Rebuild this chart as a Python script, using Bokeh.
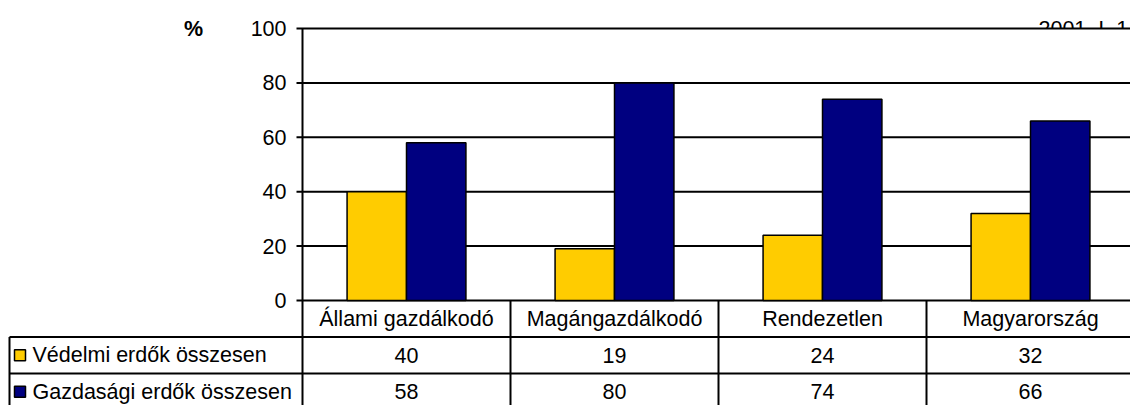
import numpy as np
from bokeh.plotting import figure
from bokeh.models import Range1d, ColumnDataSource
from bokeh.core.properties import value
from bokeh.embed import file_html
from bokeh.resources import INLINE

# ---- data ----
categories = ["Állami gazdálkodó", "Magángazdálkodó", "Rendezetlen", "Magyarország"]
series_names = ["Védelmi erdők összesen", "Gazdasági erdők összesen"]
vedelmi = [40, 19, 24, 32]
gazdasagi = [58, 80, 74, 66]
series_colors = ["#FFCC00", "#000080"]
y_ticks = [0, 20, 40, 60, 80, 100]
y_unit = "%"
corner_note = "2001. I. 1"

# ---- layout constants (pixels) ----
W, H = 1130, 405
PX = 208.0      # pixels per category
LEFT = 302      # canvas x of value axis
TOP = 28        # canvas y of top tick
PY = 2.72       # pixels per percent
ROW = 36.5      # table row height
FONT = value("Liberation Sans")
FS = "21.5px"

x_start = -LEFT / PX
x_end = (W - LEFT) / PX
ymax = max(y_ticks)
zero_px = TOP + ymax * PY
y_end = ymax + TOP / PY
y_start = -(H - zero_px) / PY

p = figure(width=W, height=H,
           x_range=Range1d(x_start, x_end), y_range=Range1d(y_start, y_end),
           x_axis_type=None, y_axis_type=None,
           toolbar_location=None, output_backend="svg",
           min_border=0, outline_line_color=None)
p.grid.visible = False
p.extra_y_ranges = {"tbl": Range1d(start=(H - zero_px) / ROW, end=-zero_px / ROW)}

n = len(categories)
centers = np.arange(n) + 0.5
bw = 1 / 3.5

# corner note (partially hidden by top border)
p.text(x=[(1038 - LEFT) / PX], y=[ymax], text=[corner_note],
       text_align="left", text_baseline="alphabetic",
       text_font=FONT, text_font_size=FS, text_color="black")

# plot area white background
p.quad(left=[0], right=[x_end + 1], bottom=[0], top=[ymax],
       fill_color="white", line_color=None)

# gridlines
gx0 = [-6 / PX] * len(y_ticks)
p.segment(x0=gx0, y0=y_ticks, x1=[x_end + 1] * len(y_ticks), y1=y_ticks,
          line_color="black", line_width=2)

# bars
src = ColumnDataSource(dict(x1=centers - bw / 2, x2=centers + bw / 2,
                            v=vedelmi, g=gazdasagi))
p.vbar(x="x1", top="v", bottom=0, width=bw, source=src,
       fill_color=series_colors[0], line_color="black", line_width=1.5)
p.vbar(x="x2", top="g", bottom=0, width=bw, source=src,
       fill_color=series_colors[1], line_color="black", line_width=1.5)

# value axis line (continues down as table border)
p.segment(x0=[0], y0=[ymax], x1=[0], y1=[y_start - 5],
          line_color="black", line_width=2)

# tick labels
p.text(x=[-16 / PX] * len(y_ticks), y=y_ticks, text=[str(t) for t in y_ticks],
       text_align="right", text_baseline="middle",
       text_font=FONT, text_font_size=FS, text_color="black")

# unit label
p.text(x=[(193 - LEFT) / PX], y=[ymax], text=[y_unit],
       text_align="center", text_baseline="middle",
       text_font=FONT, text_font_size=FS, text_font_style="bold", text_color="black")

# ---- data table ----
xl = -(LEFT - 9) / PX
nrows = 1 + len(series_names)
# horizontal lines
p.segment(x0=[xl] * len(series_names), y0=list(range(1, nrows)),
          x1=[x_end + 1] * len(series_names), y1=list(range(1, nrows)),
          line_color="black", line_width=2, y_range_name="tbl")
# vertical separators
p.segment(x0=list(range(1, n + 1)), y0=[0] * n, x1=list(range(1, n + 1)), y1=[nrows + 1] * n,
          line_color="black", line_width=2, y_range_name="tbl")
# left border
p.segment(x0=[xl], y0=[1], x1=[xl], y1=[nrows + 1],
          line_color="black", line_width=2, y_range_name="tbl")

# category labels
p.text(x=centers, y=[0.5] * n, text=categories,
       text_align="center", text_baseline="middle",
       text_font=FONT, text_font_size=FS, text_color="black", y_range_name="tbl")

rows_y = [1.5 + i for i in range(len(series_names))]
for i, vals in enumerate([vedelmi, gazdasagi]):
    p.text(x=centers, y=[rows_y[i]] * n, text=[str(v) for v in vals],
           text_align="center", text_baseline="middle",
           text_font=FONT, text_font_size=FS, text_color="black", y_range_name="tbl")

# series labels with legend keys
p.rect(x=[(19.5 - LEFT) / PX] * len(series_names), y=rows_y, width=11, height=11,
       width_units="screen", height_units="screen",
       fill_color=series_colors, line_color="black", line_width=1.5, y_range_name="tbl")
p.text(x=[(32 - LEFT) / PX] * len(series_names), y=rows_y, text=series_names,
       text_align="left", text_baseline="middle",
       text_font=FONT, text_font_size=FS, text_color="black", y_range_name="tbl")

open("out.html", "w").write(file_html(p, INLINE))
